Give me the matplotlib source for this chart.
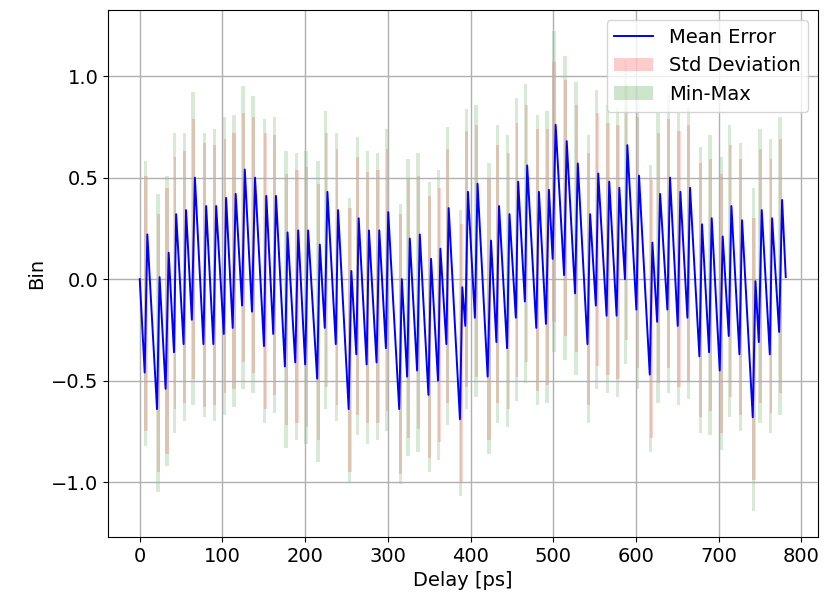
"""Mean bin error vs. delay, with std deviation and min-max bands at each bin transition."""
import matplotlib
matplotlib.use("Agg")
import matplotlib.pyplot as plt

# each transition: trough (delay, error) followed by the jump up to the peak
TROUGH_X = [6, 20.9, 31.3, 41.4, 53, 63, 77, 89, 101.6, 112.4,
            123.7, 135.7, 150.2, 161.4, 175.5, 188, 200, 214.5, 223.7, 237,
            252.6, 261.8, 274.3, 286.3, 297.6, 313.7, 323.3, 335.3, 349, 360.6,
            370.7, 387.1, 393.6, 405.2, 420.6, 431.2, 444.1, 454.7, 465.6, 479.4,
            491.1, 499.2, 513, 526.3, 541.3, 551.4, 564.4, 576.5, 586.6, 600.4,
            616.6, 625.5, 637.9, 650.4, 662.1, 676.6, 688.3, 701.2, 712.1, 725,
            741.1, 748.4, 761.7, 773]
TROUGH_Y = [-0.46, -0.64, -0.54, -0.36, -0.32, -0.20, -0.32, -0.32, -0.27, -0.24,
            -0.13, -0.16, -0.33, -0.27, -0.43, -0.41, -0.42, -0.49, -0.24, -0.32,
            -0.64, -0.37, -0.42, -0.41, -0.34, -0.64, -0.48, -0.45, -0.57, -0.50,
            -0.32, -0.69, -0.23, -0.19, -0.48, -0.31, -0.34, -0.19, -0.11, -0.24,
            -0.22, 0.10, 0.02, -0.07, -0.32, -0.13, -0.18, -0.18, 0.00, -0.15,
            -0.47, -0.21, -0.15, -0.23, -0.19, -0.38, -0.36, -0.45, -0.28, -0.37,
            -0.68, -0.31, -0.37, -0.26]
PEAK_X = [9.2, 24, 35, 44, 56, 66.7, 80.3, 92.4, 104.4, 116,
          127, 139.4, 153, 164.7, 178.7, 191.6, 203.6, 217.7, 226.9, 239.8,
          255.8, 264.7, 277.1, 289.6, 300.4, 316.9, 326.5, 338.6, 352.2, 363.5,
          373.5, 390, 396.8, 408.4, 424.7, 434.4, 447, 457.5, 468.4, 482.6,
          494.7, 502.8, 516.2, 529.6, 544.5, 554.3, 567.6, 579.8, 589.5, 603.6,
          619.8, 629.1, 641.1, 653.6, 665.3, 679.8, 691.5, 704.8, 715.3, 728.2,
          744.4, 752, 764.5, 776.6]
PEAK_Y = [0.22, 0.01, 0.13, 0.32, 0.34, 0.50, 0.36, 0.36, 0.40, 0.42,
          0.54, 0.50, 0.41, 0.41, 0.23, 0.24, 0.24, 0.17, 0.43, 0.34,
          0.04, 0.30, 0.24, 0.24, 0.33, 0.00, 0.20, 0.22, 0.10, 0.15,
          0.35, -0.04, 0.43, 0.47, 0.19, 0.36, 0.32, 0.48, 0.56, 0.43,
          0.44, 0.76, 0.68, 0.57, 0.32, 0.52, 0.48, 0.45, 0.66, 0.51,
          0.18, 0.42, 0.50, 0.43, 0.45, 0.27, 0.30, 0.21, 0.36, 0.29,
          -0.01, 0.34, 0.30, 0.39]
STD = [0.29, 0.31, 0.32, 0.28, 0.29, 0.29, 0.31, 0.30, 0.29, 0.30,
       0.28, 0.30, 0.31, 0.30, 0.29, 0.30, 0.31, 0.30, 0.29, 0.30,
       0.31, 0.30, 0.29, 0.30, 0.31, 0.32, 0.30, 0.29, 0.31, 0.30,
       0.29, 0.31, 0.30, 0.29, 0.31, 0.30, 0.30, 0.29, 0.30, 0.31,
       0.30, 0.31, 0.30, 0.29, 0.30, 0.30, 0.29, 0.31, 0.30, 0.29,
       0.31, 0.30, 0.29, 0.30, 0.31, 0.30, 0.29, 0.31, 0.30, 0.30,
       0.31, 0.30, 0.29, 0.30]
SPREAD = [0.36, 0.41, 0.38, 0.40, 0.38, 0.42, 0.36, 0.38, 0.40, 0.39,
          0.41, 0.40, 0.38, 0.39, 0.40, 0.38, 0.39, 0.41, 0.40, 0.38,
          0.36, 0.40, 0.39, 0.38, 0.41, 0.37, 0.39, 0.40, 0.38, 0.39,
          0.40, 0.38, 0.41, 0.39, 0.38, 0.40, 0.39, 0.41, 0.40, 0.38,
          0.39, 0.46, 0.42, 0.40, 0.39, 0.41, 0.38, 0.40, 0.42, 0.39,
          0.38, 0.40, 0.41, 0.39, 0.40, 0.38, 0.41, 0.39, 0.40, 0.38,
          0.46, 0.40, 0.39, 0.41]
START = (0, 0.0)
END = (781, 0.01)

plt.rcParams["font.size"] = 14

fig = plt.figure(figsize=(8.33, 5.96), dpi=100)
ax = fig.add_axes([0.13, 0.099, 0.852, 0.884])

xs, ys = [START[0]], [START[1]]
for tx, ty, px, py in zip(TROUGH_X, TROUGH_Y, PEAK_X, PEAK_Y):
    xs += [tx, px]
    ys += [ty, py]
xs.append(END[0])
ys.append(END[1])

# bands: one narrow strip per transition, from below the trough to above the peak
for i, (tx, ty, px, py, s, m) in enumerate(zip(TROUGH_X, TROUGH_Y, PEAK_X, PEAK_Y, STD, SPREAD)):
    ax.fill_between([tx - 0.8, px], ty - m, py + m, color="green", alpha=0.16,
                    linewidth=0, label="Min-Max" if i == 0 else None)
    ax.fill_between([tx - 0.3, px + 0.4], ty - s, py + s, color="red", alpha=0.16,
                    linewidth=0, label="Std Deviation" if i == 0 else None)

ax.plot(xs, ys, color="blue", linewidth=1.4, label="Mean Error")

ax.set_xlim(-38, 820)
ax.set_ylim(-1.27, 1.325)
ax.set_xticks(range(0, 801, 100))
ax.set_yticks([-1.0, -0.5, 0.0, 0.5, 1.0])
ax.set_xlabel("Delay [ps]")
ax.set_ylabel("Bin")
ax.grid(True, color="#b0b0b0", linewidth=1.0)

handles, labels = ax.get_legend_handles_labels()
order = [labels.index(n) for n in ("Mean Error", "Std Deviation", "Min-Max")]
leg = ax.legend([handles[k] for k in order], [labels[k] for k in order], loc="upper right")
for patch in leg.get_patches():
    patch.set_alpha(0.2)

fig.savefig("out.png", dpi=100)
